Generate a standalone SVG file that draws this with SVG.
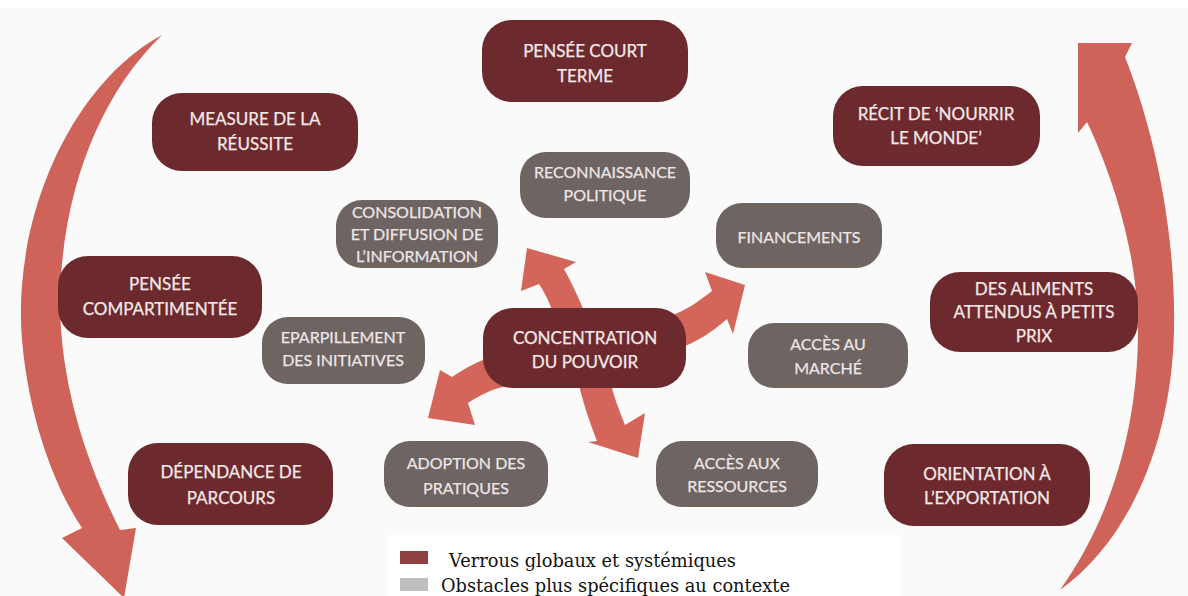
<svg xmlns="http://www.w3.org/2000/svg" width="1188" height="596" viewBox="0 0 1188 596">
<style>
.dk{fill:#6c2a2e}
.gr{fill:#6e6462}
.t{font-family:Lato,"Open Sans",sans-serif;text-anchor:middle;fill:#f4e8e8;stroke:#f4e8e8;stroke-width:0.25px}
.tb{font-size:17px}
.ts{font-size:16px;fill:#ece6e6;stroke:#ece6e6}
.arr{fill:#d4655b}
.big{fill:#cf6359}
.lg{font-family:"DejaVu Serif","Liberation Serif",serif;font-size:17.8px;fill:#111}
</style>
<rect width="1188" height="596" fill="#fafafa"/>
<rect width="1188" height="8" fill="#ffffff"/>
<g id="connectors">
<path class="big" d="M162,35 C70,85 12,220 22,340 C30,430 60,495 82,528 L62,538 L124,598 L136,528 L120,530 C90,470 60,390 60,300 C62,190 100,95 162,35 Z"/>
<path class="big" d="M1060,590 C1130,540 1172,440 1174,330 C1176,220 1150,120 1125,57 L1132,43 L1078,43 L1078,133 L1087,122 C1110,170 1138,250 1138,330 C1138,430 1110,520 1060,590 Z"/>
<path class="arr" d="M558,330 C554,312 548,298 539,284 L521,291 L527,248 L576,262 L564,269 C573,285 582,305 592,330 Z"/>
<path class="arr" d="M670,316 C688,310 700,300 712,291 L705,272 L745,285 L733,334 L727,319 C712,332 697,342 680,348 Z"/>
<path class="arr" d="M495,356 C480,360 465,368 452,377 L440,370 L428,418 L475,425 L468,403 C480,395 492,389 507,386 Z"/>
<path class="arr" d="M578,380 C582,400 589,420 597,441 L588,442 L638,458 L645,413 L625,425 C619,410 613,395 610,380 Z"/>
</g>
<g id="n1"><rect class="dk" x="482" y="20" width="206" height="82" rx="30"/><text class="t tb" x="585" y="57">PENSÉE COURT</text><text class="t tb" x="585" y="82">TERME</text></g>
<g id="n2"><rect class="dk" x="152" y="93" width="206" height="78" rx="30"/><text class="t tb" x="255" y="125">MEASURE DE LA</text><text class="t tb" x="255" y="150">RÉUSSITE</text></g>
<g id="n3"><rect class="dk" x="833" y="86" width="207" height="80" rx="30"/><text class="t tb" x="936" y="120">RÉCIT DE ‘NOURRIR</text><text class="t tb" x="936" y="144">LE MONDE’</text></g>
<g id="n4"><rect class="gr" x="520" y="152" width="170" height="66" rx="26"/><text class="t ts" x="605" y="178">RECONNAISSANCE</text><text class="t ts" x="605" y="201">POLITIQUE</text></g>
<g id="n5"><rect class="gr" x="336" y="200" width="162" height="68" rx="26"/><text class="t ts" x="417" y="218">CONSOLIDATION</text><text class="t ts" x="417" y="240">ET DIFFUSION DE</text><text class="t ts" x="417" y="262">L’INFORMATION</text></g>
<g id="n6"><rect class="gr" x="716" y="203" width="166" height="65" rx="26"/><text class="t ts" x="799" y="243">FINANCEMENTS</text></g>
<g id="n7"><rect class="dk" x="58" y="256" width="204" height="82" rx="30"/><text class="t tb" x="160" y="290">PENSÉE</text><text class="t tb" x="160" y="315">COMPARTIMENTÉE</text></g>
<g id="n8"><rect class="gr" x="262" y="317" width="163" height="67" rx="26"/><text class="t ts" x="343" y="343">EPARPILLEMENT</text><text class="t ts" x="343" y="366">DES INITIATIVES</text></g>
<g id="n9"><rect class="dk" x="483" y="308" width="203" height="80" rx="30"/><text class="t tb" x="585" y="344">CONCENTRATION</text><text class="t tb" x="585" y="368">DU POUVOIR</text></g>
<g id="n10"><rect class="gr" x="748" y="323" width="160" height="65" rx="26"/><text class="t ts" x="828" y="350">ACCÈS AU</text><text class="t ts" x="828" y="374">MARCHÉ</text></g>
<g id="n11"><rect class="dk" x="930" y="272" width="208" height="80" rx="30"/><text class="t tb" x="1034" y="295">DES ALIMENTS</text><text class="t tb" x="1034" y="318">ATTENDUS À PETITS</text><text class="t tb" x="1034" y="342">PRIX</text></g>
<g id="n12"><rect class="dk" x="128" y="443" width="205" height="82" rx="30"/><text class="t tb" x="231" y="478">DÉPENDANCE DE</text><text class="t tb" x="231" y="504">PARCOURS</text></g>
<g id="n13"><rect class="gr" x="384" y="441" width="164" height="66" rx="26"/><text class="t ts" x="466" y="469">ADOPTION DES</text><text class="t ts" x="466" y="494">PRATIQUES</text></g>
<g id="n14"><rect class="gr" x="656" y="441" width="162" height="66" rx="26"/><text class="t ts" x="737" y="469">ACCÈS AUX</text><text class="t ts" x="737" y="492">RESSOURCES</text></g>
<g id="n15"><rect class="dk" x="884" y="444" width="206" height="82" rx="30"/><text class="t tb" x="987" y="480">ORIENTATION À</text><text class="t tb" x="987" y="504">L’EXPORTATION</text></g>
<g id="legend">
<rect x="388" y="535" width="512" height="61" fill="#ffffff"/>
<rect x="400" y="551" width="28" height="13" fill="#8f4040"/>
<rect x="400" y="578" width="28" height="13" fill="#bfbfbf"/>
<text class="lg" x="449" y="567">Verrous globaux et systémiques</text>
<text class="lg" x="441" y="592">Obstacles plus spécifiques au contexte</text>
</g>
</svg>
